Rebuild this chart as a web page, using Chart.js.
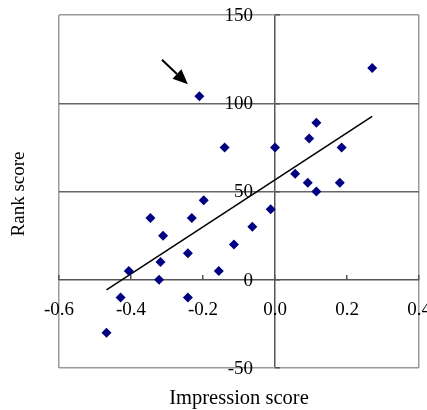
<!DOCTYPE html>
<html>
<head>
<meta charset="utf-8">
<script src="https://cdn.jsdelivr.net/npm/chart.js@4/dist/chart.umd.min.js"></script>
<style>
  html, body { margin: 0; padding: 0; background: #fff; }
  canvas { display: block; }
</style>
</head>
<body>
<canvas id="chart" width="427" height="410"></canvas>
<script>

// data
const impression = [-0.21, 0.27, 0.115, 0.095, -0.14, 0.0, 0.185, 0.056, 0.091, 0.18, 0.115,
    -0.198, -0.012, -0.063, -0.114, -0.156, -0.346, -0.231, -0.311, -0.242, -0.318, -0.406,
    -0.322, -0.429, -0.242, -0.468];
const rank = [104, 120, 89, 80, 75, 75, 75, 60, 55, 55, 50,
    45, 40, 30, 20, 5, 35, 35, 25, 15, 10, 5,
    0, -10, -10, -30];

// fitted line, end points
const trendX = [-0.468, 0.27];
const trendY = [-5.7, 92.5];

// arrow pointing at the outlier (tail, tip)
const arrowX = [-0.314, -0.242];
const arrowY = [124.6, 110.8];

const xTicks = [-0.6, -0.4, -0.2, 0.0, 0.2, 0.4];
const yTicks = [-50, 0, 50, 100, 150];

const xTitle = 'Impression score';
const yTitle = 'Rank score';

const FAMILY = '"Liberation Serif", "Times New Roman", serif';
const FONT = { family: FAMILY, size: 19 };

const points = impression.map((v, i) => ({ x: v, y: rank[i] }));
const trend = trendX.map((v, i) => ({ x: v, y: trendY[i] }));

const extrasPlugin = {
    id: 'extras',
    afterDraw(chart) {
        const ctx = chart.ctx;
        const xs = chart.scales.x, ys = chart.scales.y;
        const area = chart.chartArea;

        // y tick labels, left of the vertical axis at x = 0
        const x0 = xs.getPixelForValue(0);
        ctx.save();
        ctx.fillStyle = '#000';
        ctx.font = `${FONT.size}px ${FAMILY}`;
        ctx.textAlign = 'right';
        ctx.textBaseline = 'middle';
        ys.ticks.forEach(t => {
            ctx.fillText(String(t.value), x0 - 22, ys.getPixelForValue(t.value) + 1);
        });
        ctx.restore();

        // axis titles
        ctx.save();
        ctx.fillStyle = '#000';
        ctx.textAlign = 'center';
        ctx.textBaseline = 'middle';
        ctx.font = `20.5px ${FAMILY}`;
        ctx.fillText(xTitle, 239, 399);
        ctx.font = `${FONT.size}px ${FAMILY}`;
        ctx.translate(19, 194);
        ctx.rotate(-Math.PI / 2);
        ctx.fillText(yTitle, 0, 0);
        ctx.restore();

        // arrow
        const x1 = xs.getPixelForValue(arrowX[0]), y1 = ys.getPixelForValue(arrowY[0]);
        const x2 = xs.getPixelForValue(arrowX[1]), y2 = ys.getPixelForValue(arrowY[1]);
        const ang = Math.atan2(y2 - y1, x2 - x1);
        const headLen = 15, headW = 6.5;
        const bx = x2 - headLen * Math.cos(ang), by = y2 - headLen * Math.sin(ang);
        ctx.save();
        ctx.strokeStyle = '#000';
        ctx.fillStyle = '#000';
        ctx.lineWidth = 2;
        ctx.beginPath();
        ctx.moveTo(x1, y1);
        ctx.lineTo(bx, by);
        ctx.stroke();
        ctx.beginPath();
        ctx.moveTo(x2, y2);
        ctx.lineTo(bx + headW * Math.sin(ang), by - headW * Math.cos(ang));
        ctx.lineTo(bx - headW * Math.sin(ang), by + headW * Math.cos(ang));
        ctx.closePath();
        ctx.fill();
        ctx.restore();
    }
};

const noSpace = (scale) => {
    if (scale.isHorizontal()) scale.height = 0; else scale.width = 0;
    scale.paddingLeft = 0; scale.paddingRight = 0;
    scale.paddingTop = 0; scale.paddingBottom = 0;
};

const isEdge = (c, n) => c.index === 0 || c.index === n - 1;

new Chart(document.getElementById('chart').getContext('2d'), {
    type: 'scatter',
    data: {
        datasets: [{
            label: 'scores',
            data: points,
            pointStyle: 'rectRot',
            pointRadius: 5,
            pointHoverRadius: 5,
            backgroundColor: '#000080',
            borderColor: '#000080',
            borderWidth: 0,
        }, {
            type: 'line',
            label: 'fit',
            data: trend,
            borderColor: '#000',
            borderWidth: 1.5,
            pointRadius: 0,
            fill: false,
        }]
    },
    options: {
        responsive: false,
        animation: false,
        layout: { padding: { left: 59, top: 15, right: 8, bottom: 42 } },
        plugins: {
            legend: { display: false },
            tooltip: { enabled: false },
        },
        scales: {
            x: {
                type: 'linear',
                min: xTicks[0],
                max: xTicks[xTicks.length - 1],
                position: { y: 0 },
                afterFit: noSpace,
                afterBuildTicks: (s) => { s.ticks = xTicks.map(v => ({ value: v })); },
                border: { display: false },
                grid: {
                    tickLength: -5,
                    tickColor: '#555',
                    tickWidth: 1.5,
                    lineWidth: 1.5,
                    color: (c) => c.tick.value === 0 ? '#555' : (isEdge(c, xTicks.length) ? '#999' : 'rgba(0,0,0,0)'),
                },
                ticks: {
                    autoSkip: false,
                    maxRotation: 0,
                    padding: 24,
                    color: '#000',
                    font: FONT,
                    callback: (v) => Number(v).toFixed(1),
                },
            },
            y: {
                type: 'linear',
                min: yTicks[0],
                max: yTicks[yTicks.length - 1],
                position: { x: 0 },
                afterFit: noSpace,
                afterBuildTicks: (s) => { s.ticks = yTicks.map(v => ({ value: v })); },
                border: { display: false },
                grid: {
                    tickLength: -5,
                    tickColor: '#555',
                    tickWidth: 1.5,
                    lineWidth: 1.5,
                    color: (c) => c.tick.value === 0 ? '#555' : (isEdge(c, yTicks.length) ? '#999' : '#666'),
                },
                ticks: {
                    display: false,
                    autoSkip: false,
                },
            },
        },
    },
    plugins: [extrasPlugin],
});

</script>
</body>
</html>
